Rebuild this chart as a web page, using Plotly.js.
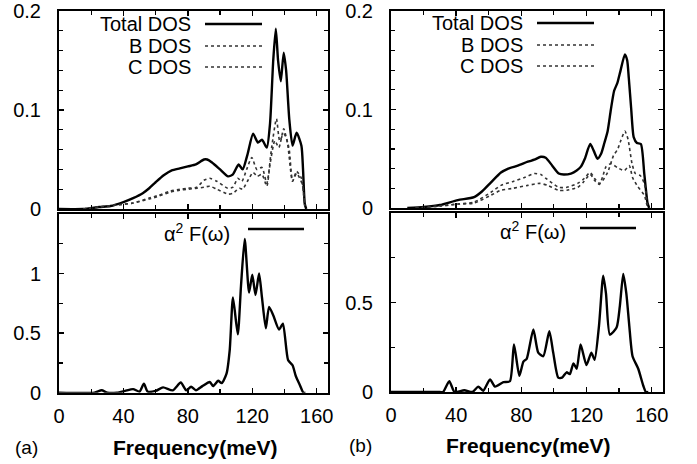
<!DOCTYPE html>
<html>
<head>
<meta charset="utf-8">
<script src="https://cdn.plot.ly/plotly-3.0.1.min.js"></script>
<style>html,body{margin:0;padding:0;background:#fff;}</style>
</head>
<body>
<div id="chart" style="width:697px;height:464px;"></div>
<script>
// ---------- Data ----------
// Panel (a), top: DOS
const aTotalFreq = [0, 15, 25, 32, 40, 46, 52, 56, 60, 65, 70, 75, 80, 85, 90, 92, 95, 100, 105, 108, 111.5, 114, 117, 120.5, 123.5, 126, 129, 131, 133, 134.6, 136, 137.7, 139.5, 141, 143, 145, 147.5, 150.5, 151.5, 152.6, 153.5];
const aTotalDOS  = [0, 0, 0.002, 0.003, 0.007, 0.011, 0.016, 0.021, 0.027, 0.034, 0.039, 0.041, 0.043, 0.045, 0.050, 0.050, 0.047, 0.040, 0.033, 0.035, 0.045, 0.040, 0.055, 0.076, 0.067, 0.070, 0.062, 0.086, 0.150, 0.182, 0.150, 0.129, 0.158, 0.140, 0.090, 0.064, 0.077, 0.064, 0.040, 0.005, 0];
const aBFreq = [15, 25, 35, 46, 56, 62, 68.8, 75, 80, 85.6, 90, 93.6, 98, 104.8, 108, 111, 113.5, 116.5, 119.7, 122.8, 126, 129, 132, 135, 137, 139.5, 141.5, 143, 145, 147.5, 150.5, 151.8, 152.6];
const aBDOS  = [0, 0.002, 0.004, 0.006, 0.011, 0.014, 0.018, 0.020, 0.021, 0.022, 0.029, 0.031, 0.028, 0.021, 0.022, 0.031, 0.028, 0.040, 0.052, 0.040, 0.042, 0.026, 0.062, 0.091, 0.069, 0.076, 0.070, 0.059, 0.028, 0.038, 0.031, 0.015, 0.003];
const aCFreq = [15, 25, 35, 46, 56, 62, 68.8, 75, 80, 86, 90, 93.6, 98, 105, 108, 112, 114, 117, 120.5, 123, 126, 129, 131, 134, 136.5, 139.5, 142, 145, 147.5, 151, 152.6];
const aCDOS  = [0, 0.002, 0.004, 0.006, 0.010, 0.013, 0.017, 0.019, 0.020, 0.021, 0.022, 0.023, 0.020, 0.015, 0.016, 0.021, 0.020, 0.028, 0.037, 0.033, 0.035, 0.023, 0.045, 0.069, 0.062, 0.081, 0.065, 0.028, 0.036, 0.025, 0.003];
// Panel (a), bottom: Eliashberg function
const aA2FFreq = [0, 22, 26.5, 30, 36, 41, 46, 50, 52.7, 55, 60, 64.6, 70.7, 75.6, 79, 82, 85, 89, 93.6, 95.7, 98.8, 101, 104, 106, 108, 111, 113, 115.3, 118, 120, 122, 124.2, 126, 128.4, 130.4, 133, 136.6, 139, 142.2, 145, 147, 149.5, 151.7, 153];
const aA2F     = [0, 0, 0.02, 0, 0, 0.015, 0.03, 0.01, 0.075, 0.01, 0.015, 0.045, 0.02, 0.085, 0.02, 0.05, 0.02, 0.055, 0.09, 0.055, 0.10, 0.08, 0.16, 0.36, 0.80, 0.49, 0.90, 1.29, 0.84, 0.99, 0.82, 1.00, 0.80, 0.54, 0.72, 0.65, 0.53, 0.58, 0.275, 0.23, 0.14, 0.065, 0, 0];

// Panel (b), top: DOS
const bTotalFreq = [10, 20, 30, 41, 51, 56, 61.4, 67.5, 72, 77.8, 84, 88, 92, 95, 99, 103, 106, 110.5, 114, 116.6, 119, 122.3, 124.5, 126.8, 129, 131, 133, 135, 137, 139, 141, 143.6, 145, 146, 147.5, 149, 151, 153.4, 155.5, 157.5, 158.5];
const bTotalDOS  = [0, 0.001, 0.003, 0.008, 0.011, 0.017, 0.026, 0.036, 0.040, 0.043, 0.047, 0.049, 0.052, 0.051, 0.043, 0.035, 0.034, 0.035, 0.038, 0.042, 0.050, 0.065, 0.058, 0.050, 0.055, 0.066, 0.078, 0.100, 0.119, 0.127, 0.140, 0.156, 0.150, 0.132, 0.100, 0.072, 0.066, 0.065, 0.035, 0.005, 0];
const bBFreq = [15, 30, 41, 51, 61.4, 67.5, 75, 82, 88, 92, 96, 103, 108, 114.6, 118, 122.3, 125, 127.9, 130, 133, 136.8, 139, 141, 143.6, 145.5, 148, 150, 153, 155.5, 157.5];
const bBDOS  = [0, 0.002, 0.004, 0.006, 0.016, 0.023, 0.027, 0.031, 0.035, 0.034, 0.029, 0.021, 0.021, 0.025, 0.029, 0.036, 0.030, 0.025, 0.028, 0.036, 0.054, 0.059, 0.068, 0.078, 0.070, 0.045, 0.035, 0.033, 0.025, 0.003];
const bCFreq = [15, 30, 41, 51, 61.4, 67.5, 75, 84, 91.5, 96, 103, 108, 114.6, 118, 122.3, 125, 127.9, 130, 132, 135, 139, 143.3, 146.3, 148.3, 151.4, 155.5, 157.5];
const bCDOS  = [0, 0.002, 0.004, 0.005, 0.013, 0.018, 0.020, 0.023, 0.025, 0.023, 0.018, 0.018, 0.021, 0.026, 0.034, 0.028, 0.024, 0.032, 0.042, 0.045, 0.041, 0.038, 0.043, 0.031, 0.022, 0.013, 0];
// Panel (b), bottom: Eliashberg function
const bA2FFreq = [0, 30, 32, 35.8, 39, 45, 50, 53.6, 56.6, 60.8, 63.9, 69, 73, 75.5, 78.8, 81.3, 83.3, 87.4, 90.4, 93.5, 97.2, 99.6, 102.7, 105, 107.8, 109.8, 112, 114, 116.4, 120, 123, 125, 127.7, 130.3, 132, 134.4, 138.5, 140.5, 142.6, 144.5, 146.3, 148.3, 151.8, 154.9, 156.5, 158];
const bA2F     = [0, 0, 0, 0.06, 0, 0.01, 0, 0.03, 0.007, 0.07, 0.03, 0.055, 0.06, 0.265, 0.09, 0.17, 0.185, 0.35, 0.22, 0.20, 0.34, 0.22, 0.08, 0.08, 0.11, 0.10, 0.16, 0.13, 0.265, 0.15, 0.22, 0.18, 0.37, 0.65, 0.55, 0.32, 0.36, 0.48, 0.66, 0.55, 0.37, 0.20, 0.13, 0.035, 0, 0];

// Tick labels
const xTickVals = [0, 40, 80, 120, 160];
const xTickText = ['0', '40', '80', '120', '160'];
const dosTickVals = [0, 0.1, 0.2];
const dosTickText = ['0', '0.1', '0.2'];
const a2fTickValsA = [0, 0.5, 1];
const a2fTickTextA = ['0', '0.5', '1'];
const a2fTickValsB = [0, 0.5];
const a2fTickTextB = ['0', '0.5'];

// Text
const legendDOS = ['Total DOS', 'B DOS', 'C DOS'];
const legendA2F = 'α<sup>2</sup> F(ω)';
const xLabel = 'Frequency(meV)';
const panelLabels = ['(a)', '(b)'];

// ---------- Drawing ----------
const W = 697, H = 464;
const FONT = '"Liberation Sans", Arial, sans-serif';
const px = (x) => x / W;
const py = (y) => 1 - y / H;

const solid = {color: '#000', width: 2.4, shape: 'spline', smoothing: 0.6};
const dotted = {color: '#333', width: 1.6, dash: 'dot', shape: 'spline', smoothing: 0.6};

function tr(x, y, xa, ya, line) {
  return {x: x, y: y, xaxis: xa, yaxis: ya, type: 'scatter', mode: 'lines', line: line, showlegend: false, hoverinfo: 'skip'};
}

const data = [
  tr(aTotalFreq, aTotalDOS, 'x', 'y', solid),
  tr(aBFreq, aBDOS, 'x', 'y', dotted),
  tr(aCFreq, aCDOS, 'x', 'y', dotted),
  tr(aA2FFreq, aA2F, 'x2', 'y2', solid),
  tr(bTotalFreq, bTotalDOS, 'x3', 'y3', solid),
  tr(bBFreq, bBDOS, 'x3', 'y3', dotted),
  tr(bCFreq, bCDOS, 'x3', 'y3', dotted),
  tr(bA2FFreq, bA2F, 'x4', 'y4', solid)
];

function xa(domain, anchor, labels) {
  return {
    domain: domain, anchor: anchor, range: [0, 167], fixedrange: true,
    showline: true, linewidth: 2, linecolor: '#000', mirror: 'allticks',
    ticks: 'inside', ticklen: 5, tickwidth: 1.5, tickcolor: '#000',
    tickmode: 'array', tickvals: xTickVals, ticktext: xTickText,
    showticklabels: labels, ticklabelstandoff: 4,
    minor: {tickmode: 'linear', tick0: 0, dtick: 20, ticks: 'inside', ticklen: 4, tickwidth: 1.2, tickcolor: '#000'},
    showgrid: false, zeroline: false,
    tickfont: {family: FONT, size: 20, color: '#000'}
  };
}
function ya(domain, anchor, range, vals, text, minorStep) {
  return {
    domain: domain, anchor: anchor, range: range, fixedrange: true,
    showline: true, linewidth: 2, linecolor: '#000', mirror: 'allticks',
    ticks: 'inside', ticklen: 5, tickwidth: 1.5, tickcolor: '#000',
    tickmode: 'array', tickvals: vals, ticktext: text, ticklabelstandoff: 12,
    minor: {tickmode: 'linear', tick0: 0, dtick: minorStep, ticks: 'inside', ticklen: 4, tickwidth: 1.2, tickcolor: '#000'},
    showgrid: false, zeroline: false,
    tickfont: {family: FONT, size: 20, color: '#000'}
  };
}

const leftX = [px(59), px(328)];
const rightX = [px(391), px(663)];

const layout = {
  width: W, height: H,
  margin: {l: 0, r: 0, t: 0, b: 0},
  paper_bgcolor: '#fff', plot_bgcolor: '#fff',
  showlegend: false,
  xaxis: xa(leftX, 'y', false),
  yaxis: ya([py(209), py(11)], 'x', [0, 0.2], dosTickVals, dosTickText, 0.02),
  xaxis2: xa(leftX, 'y2', true),
  yaxis2: ya([py(392.7), py(214)], 'x2', [0, 1.5], a2fTickValsA, a2fTickTextA, 0.25),
  xaxis3: xa(rightX, 'y3', false),
  yaxis3: ya([py(208), py(11)], 'x3', [0, 0.2], dosTickVals, dosTickText, 0.02),
  xaxis4: xa(rightX, 'y4', true),
  yaxis4: ya([py(392), py(213)], 'x4', [0, 1], a2fTickValsB, a2fTickTextB, 0.25),
  annotations: [],
  shapes: []
};

function legendText(x, y, txt) {
  layout.annotations.push({xref: 'paper', yref: 'paper', x: px(x), y: py(y), xanchor: 'right', yanchor: 'middle',
    text: txt, showarrow: false, borderpad: 0, font: {family: FONT, size: 20, color: '#000'}});
}
function legendLine(x0, x1, y, line) {
  layout.shapes.push({type: 'line', xref: 'paper', yref: 'paper', x0: px(x0), x1: px(x1), y0: py(y), y1: py(y),
    line: {color: line.color, width: line.width, dash: line.dash || 'solid'}});
}

// Panel (a) legends
const rowsA = [24, 46, 67];
legendDOS.forEach((t, i) => { legendText(192, rowsA[i], t); legendLine(205, 262, rowsA[i], i === 0 ? solid : dotted); });
legendText(231, 232, legendA2F); legendLine(248, 304, 229, solid);
// Panel (b) legends
const rowsB = [23, 45, 66];
legendDOS.forEach((t, i) => { legendText(524, rowsB[i], t); legendLine(537, 594, rowsB[i], i === 0 ? solid : dotted); });
legendText(567, 230, legendA2F); legendLine(580, 636, 228, solid);

// Axis titles and panel labels
layout.annotations.push({xref: 'paper', yref: 'paper', x: px(195), y: py(447), xanchor: 'center', yanchor: 'middle',
  text: '<b>' + xLabel + '</b>', showarrow: false, font: {family: FONT, size: 21, color: '#000'}});
layout.annotations.push({xref: 'paper', yref: 'paper', x: px(528), y: py(445), xanchor: 'center', yanchor: 'middle',
  text: '<b>' + xLabel + '</b>', showarrow: false, font: {family: FONT, size: 21, color: '#000'}});
layout.annotations.push({xref: 'paper', yref: 'paper', x: px(26), y: py(447), xanchor: 'center', yanchor: 'middle',
  text: panelLabels[0], showarrow: false, font: {family: FONT, size: 19, color: '#000'}});
layout.annotations.push({xref: 'paper', yref: 'paper', x: px(360), y: py(445), xanchor: 'center', yanchor: 'middle',
  text: panelLabels[1], showarrow: false, font: {family: FONT, size: 19, color: '#000'}});

Plotly.newPlot('chart', data, layout, {staticPlot: true, displayModeBar: false});
</script>
</body>
</html>
